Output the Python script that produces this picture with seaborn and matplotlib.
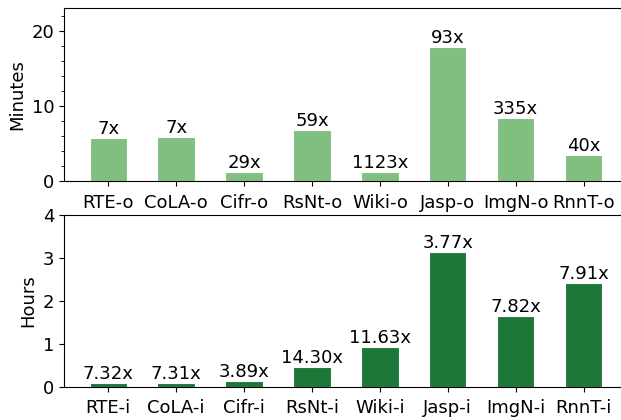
import matplotlib
matplotlib.use("Agg")
import matplotlib.pyplot as plt
from matplotlib.ticker import MultipleLocator
import seaborn as sns
import pandas as pd

top_categories = ["RTE-o", "CoLA-o", "Cifr-o", "RsNt-o", "Wiki-o", "Jasp-o", "ImgN-o", "RnnT-o"]
top_minutes = [5.7, 5.8, 1.2, 6.8, 1.15, 17.8, 8.4, 3.45]
top_labels = ["7x", "7x", "29x", "59x", "1123x", "93x", "335x", "40x"]

bottom_categories = ["RTE-i", "CoLA-i", "Cifr-i", "RsNt-i", "Wiki-i", "Jasp-i", "ImgN-i", "RnnT-i"]
bottom_hours = [0.085, 0.085, 0.14, 0.46, 0.94, 3.15, 1.65, 2.42]
bottom_labels = ["7.32x", "7.31x", "3.89x", "14.30x", "11.63x", "3.77x", "7.82x", "7.91x"]

plt.rcParams["font.family"] = ["DejaVu Sans"]
FS = 13

fig = plt.figure(figsize=(6.21, 4.20), dpi=100)
ax1 = fig.add_axes([0.103, 0.569, 0.908, 0.412])
ax2 = fig.add_axes([0.103, 0.0786, 0.908, 0.4094])

df_top = pd.DataFrame({"cat": top_categories, "val": top_minutes})
df_bot = pd.DataFrame({"cat": bottom_categories, "val": bottom_hours})

sns.barplot(data=df_top, x="cat", y="val", ax=ax1, color="#80bf80",
            saturation=1, width=0.55, edgecolor="white", linewidth=0.8)
sns.barplot(data=df_bot, x="cat", y="val", ax=ax2, color="#1d7739",
            saturation=1, width=0.55, edgecolor="white", linewidth=0.8)

ax1.bar_label(ax1.containers[0], labels=top_labels, padding=0, fontsize=FS)
ax2.bar_label(ax2.containers[0], labels=bottom_labels, padding=0, fontsize=FS)

ax1.set_ylim(0, 23)
ax1.yaxis.set_major_locator(MultipleLocator(10))
ax1.yaxis.set_minor_locator(MultipleLocator(2))
ax2.set_ylim(0, 4)
ax2.yaxis.set_major_locator(MultipleLocator(1))

for ax in (ax1, ax2):
    ax.set_xlim(-0.6525, 7.6525)
    ax.set_xlabel("")
    ax.tick_params(labelsize=FS)
    ax.tick_params(axis="x", pad=5.5)

ax1.set_ylabel("Minutes", fontsize=FS)
ax2.set_ylabel("Hours", fontsize=FS)

fig.savefig("out.png", dpi=100)
